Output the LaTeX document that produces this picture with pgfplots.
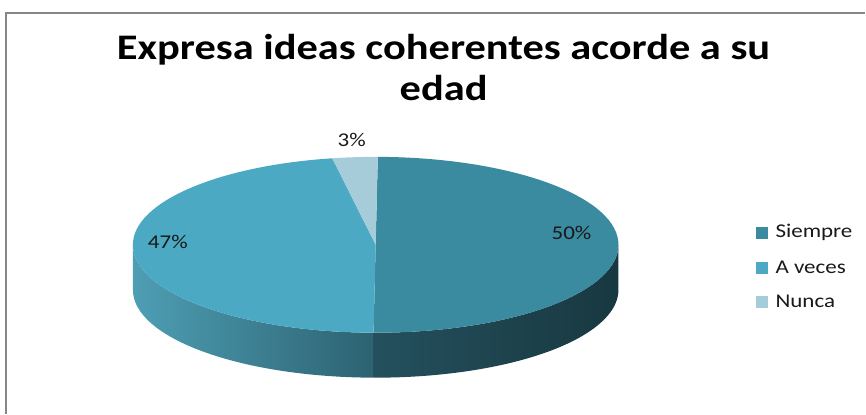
\documentclass[border=0pt]{standalone}
\usepackage{pgfplots}
\pgfplotsset{compat=1.18}
\usepackage{pgfplotstable}
\usepackage{fontspec}
\setmainfont{Carlito}

\definecolor{siempre}{RGB}{58,138,160}
\definecolor{aveces}{RGB}{75,169,195}
\definecolor{nunca}{RGB}{166,203,217}
\definecolor{frame}{RGB}{134,134,134}
\definecolor{txt}{RGB}{25,25,25}

% text in the reference is stretched sideways
\newcommand{\wide}[1]{\scalebox{1.18}[1]{#1}}

\pgfplotstableread{
label value
Siempre 50
{A veces} 47
Nunca 3
}\piedata

\begin{document}
\begin{tikzpicture}
% pie geometry, in px (1px = 1pt)
\def\cx{376}\def\cy{169}\def\rx{243}\def\ry{88}\def\dep{45}
\def\aO{89.5}
\pgfplotstablegetelem{0}{value}\of\piedata \pgfmathsetmacro\vA{\pgfplotsretval}
\pgfplotstablegetelem{1}{value}\of\piedata \pgfmathsetmacro\vB{\pgfplotsretval}
\pgfplotstablegetelem{2}{value}\of\piedata \pgfmathsetmacro\vC{\pgfplotsretval}
\pgfmathsetmacro\tot{\vA+\vB+\vC}
\pgfmathsetmacro\aA{\aO-360*(\vA/\tot)}
\pgfmathsetmacro\aB{\aA-360*(\vB/\tot)}
\pgfmathsetmacro\aC{\aO-360}
\begin{axis}[x=1pt,y=1pt,xmin=0,xmax=866,ymin=0,ymax=414,
    hide axis,clip=false,anchor=origin,at={(0,0)}]
  \path (axis cs:0,0) rectangle (axis cs:866,414);
  % frame
  \draw[frame,line width=1.5pt] (axis cs:6,0) -- (axis cs:6,401) -- (axis cs:866,401);
  % sides
  \shade[left color={rgb,255:red,78;green,158;blue,180},right color={rgb,255:red,44;green,98;blue,113}]
    (axis cs:\cx,\cy) ++(-180:\rx pt and \ry pt)
    arc[start angle=-180,end angle=\aA,x radius=\rx pt,y radius=\ry pt]
    -- ++(0pt,-\dep pt)
    arc[start angle=\aA,end angle=-180,x radius=\rx pt,y radius=\ry pt] -- cycle;
  \shade[left color={rgb,255:red,36;green,80;blue,94},right color={rgb,255:red,24;green,56;blue,64}]
    (axis cs:\cx,\cy) ++(\aA:\rx pt and \ry pt)
    arc[start angle=\aA,end angle=0,x radius=\rx pt,y radius=\ry pt]
    -- ++(0pt,-\dep pt)
    arc[start angle=0,end angle=\aA,x radius=\rx pt,y radius=\ry pt] -- cycle;
  % tops
  \fill[siempre] (axis cs:\cx,\cy) -- ++(\aO:\rx pt and \ry pt)
    arc[start angle=\aO,end angle=\aA,x radius=\rx pt,y radius=\ry pt] -- cycle;
  \fill[aveces] (axis cs:\cx,\cy) -- ++(\aA:\rx pt and \ry pt)
    arc[start angle=\aA,end angle=\aB,x radius=\rx pt,y radius=\ry pt] -- cycle;
  \fill[nunca] (axis cs:\cx,\cy) -- ++(\aB:\rx pt and \ry pt)
    arc[start angle=\aB,end angle=\aC,x radius=\rx pt,y radius=\ry pt] -- cycle;
  % data labels
  \node[txt,font=\fontsize{19.5}{23}\selectfont] at (axis cs:572,181) {\wide{50\%}};
  \node[txt,font=\fontsize{19.5}{23}\selectfont] at (axis cs:168,172) {\wide{47\%}};
  \node[txt,font=\fontsize{19.5}{23}\selectfont] at (axis cs:352,274) {\wide{3\%}};
  % title
  \node[anchor=base,inner sep=0pt,font=\bfseries\fontsize{36}{43}\selectfont] at (axis cs:444,354) {\wide{Expresa ideas coherentes acorde a su}};
  \node[anchor=base,inner sep=0pt,font=\bfseries\fontsize{36}{43}\selectfont] at (axis cs:444,313) {\wide{edad}};
  % legend
  \fill[siempre] (axis cs:757,175) rectangle (axis cs:769,187);
  \fill[aveces] (axis cs:757,140) rectangle (axis cs:769,152);
  \fill[nunca] (axis cs:757,106) rectangle (axis cs:769,118);
  \node[txt,anchor=west,inner sep=0pt,font=\fontsize{19.5}{23}\selectfont] at (axis cs:776,181) {\wide{Siempre}};
  \node[txt,anchor=west,inner sep=0pt,font=\fontsize{19.5}{23}\selectfont] at (axis cs:776,146) {\wide{A veces}};
  \node[txt,anchor=west,inner sep=0pt,font=\fontsize{19.5}{23}\selectfont] at (axis cs:776,112) {\wide{Nunca}};
\end{axis}
\end{tikzpicture}
\end{document}
